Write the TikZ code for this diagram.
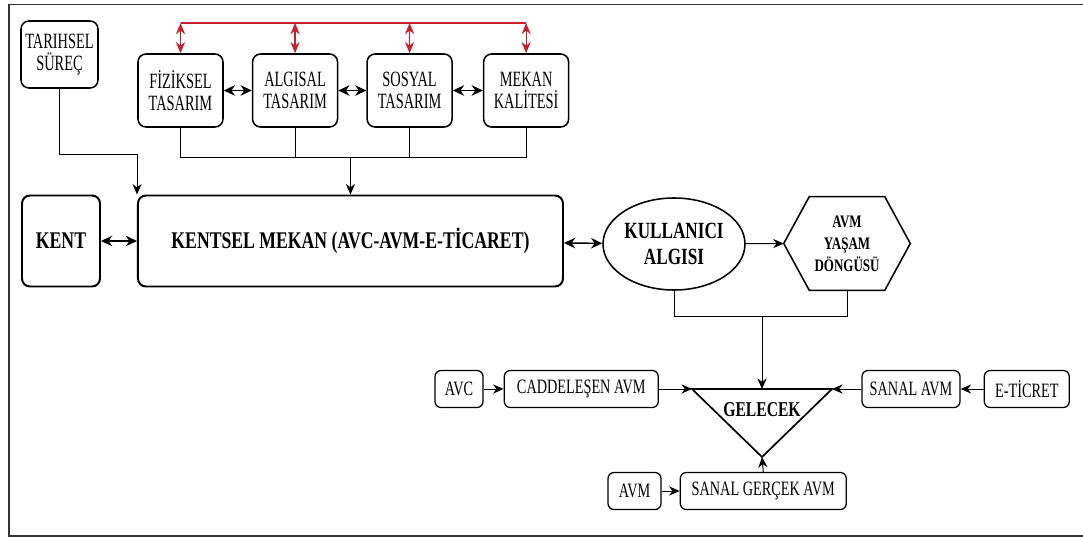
\documentclass[tikz,border=0pt]{standalone}
\usepackage{fontspec}
\setmainfont{Liberation Serif}[FakeStretch=0.74]
\newfontfamily\narrowfont{Liberation Serif}[FakeStretch=0.66]
\newfontfamily\smallfont{Liberation Serif}[FakeStretch=0.70]
\usepackage{xcolor}
\usepackage{tikz}
\usetikzlibrary{arrows.meta,positioning,shapes.geometric,calc}
\definecolor{linkred}{RGB}{200,30,45}

\begin{document}
\begin{tikzpicture}[x=0.25mm, y=-0.25mm,
  box/.style={draw, rounded corners=2mm, line width=1.1pt, align=center, minimum width=21.25mm, minimum height=18.25mm, inner sep=1pt, font=\narrowfont\fontsize{15.5}{15.6}\selectfont},
  main/.style={draw, rounded corners=2mm, line width=1.4pt, align=center, minimum height=22.75mm, inner sep=1pt, font=\bfseries\fontsize{17}{18}\selectfont},
  small/.style={draw, rounded corners=1.5mm, line width=0.9pt, align=center, minimum height=9.25mm, inner sep=2pt, font=\smallfont\fontsize{14.5}{15}\selectfont},
  link/.style={line width=0.6pt},
  arr/.style={-{Stealth[length=7.5pt,width=6.5pt]}, line width=0.7pt},
  darr/.style={{Stealth[length=8pt,width=7.5pt]}-{Stealth[length=8pt,width=7.5pt]}, line width=1pt},
  redarr/.style={{Stealth[length=8pt,width=6.5pt]}-{Stealth[length=8pt,width=6.5pt]}, linkred, line width=0.8pt}
]
\useasboundingbox (0,0) rectangle (1083,538);
\draw[line width=1.2pt, black!80] (1083,4.5) -- (9,4.5) -- (9,536) -- (1083,536);

\node[box, minimum width=19.25mm, minimum height=16.75mm] (tarih) at (59.5,54.5) {TARIHSEL\\SÜREÇ};
\node[box] (fiz) at (180.5,90.5) {FİZİKSEL\\TASARIM};
\node[box, right=7mm of fiz] (alg) {ALGISAL\\TASARIM};
\node[box, right=7mm of alg] (sos) {SOSYAL\\TASARIM};
\node[box, right=7.5mm of sos] (mek) {MEKAN\\KALİTESİ};

\node[main, minimum width=19.5mm] (kent) at (61,241) {KENT};
\node[main, minimum width=106.25mm, right=9mm of kent] (kentsel) {KENTSEL MEKAN (AVC-AVM-E-TİCARET)};
\node[draw, ellipse, line width=1.1pt, align=center, inner sep=0pt, minimum width=35.5mm, minimum height=23mm, font=\bfseries\fontsize{16.5}{19}\selectfont] (kull) at (674,244) {KULLANICI\\ALGISI};
\node[align=center, minimum width=31.5mm, minimum height=23.25mm, font=\bfseries\fontsize{12.5}{15.6}\selectfont] (yasam) at (847,243.5) {AVM\\YAŞAM\\DÖNGÜSÜ};
\draw[line width=1.1pt] (yasam.west) -- ($(yasam.north west)+(25.5,0)$) -- ($(yasam.north east)+(-25.5,0)$) -- (yasam.east) -- ($(yasam.south east)+(-25.5,0)$) -- ($(yasam.south west)+(25.5,0)$) -- cycle;

\coordinate (gl) at (692,389);
\coordinate (gr) at (832,389);
\coordinate (gb) at (762,457);
\coordinate (gtop) at (762,389);
\draw[line width=1.2pt] (gl) -- (gr) -- (gb) -- cycle;
\node[font=\bfseries\fontsize{15}{16}\selectfont] (gelecek) at (762,410) {GELECEK};

\node[small, minimum width=12mm] (avc) at (459,389) {AVC};
\node[small, minimum width=38.5mm, right=5mm of avc] (cadde) {CADDELEŞEN AVM};
\node[small, minimum width=24.5mm] (sanal) at (911,389) {SANAL AVM};
\node[small, minimum width=21.25mm, right=5.75mm of sanal] (eticret) {E-TİCRET};
\node[small, minimum width=13.25mm] (avm) at (634.5,491) {AVM};
\node[small, minimum width=41.5mm, right=4.5mm of avm] (gercek) {SANAL GERÇEK AVM};

\coordinate (redline) at (0,23);
\coordinate (join) at (0,157);
\coordinate (tbend) at (137,154);
\coordinate (rjoin) at (0,316);

\draw[linkred, line width=0.8pt] (fiz.north |- redline) -- (mek.north |- redline);
\draw[redarr] (fiz.north) -- (fiz.north |- redline);
\draw[redarr] (alg.north) -- (alg.north |- redline);
\draw[redarr] (sos.north) -- (sos.north |- redline);
\draw[redarr] (mek.north) -- (mek.north |- redline);
\draw[darr] (fiz) -- (alg);
\draw[darr] (alg) -- (sos);
\draw[darr] (sos) -- (mek);

\draw[link] (fiz.south) -- (fiz.south |- join) -- (mek.south |- join) -- (mek.south);
\draw[link] (alg.south) -- (alg.south |- join);
\draw[link] (sos.south) -- (sos.south |- join);
\draw[arr] (kentsel.north |- join) -- (kentsel.north);
\draw[arr] (tarih.south) |- (tbend) -- (tbend |- kentsel.north);

\draw[darr] (kent) -- (kentsel);
\draw[darr] (kentsel) -- (kull);
\draw[arr] (kull) -- (yasam.west);
\draw[link] (kull.south) -- (kull.south |- rjoin) -- (yasam.south |- rjoin) -- (yasam.south);
\draw[arr] (gtop |- rjoin) -- (gtop);

\draw[arr] (avc) -- (cadde);
\draw[arr] (cadde) -- (gl);
\draw[arr] (eticret) -- (sanal);
\draw[arr] (sanal) -- (gr);
\draw[arr] (avm) -- (gercek);
\draw[arr] (gercek.north) -- (gb);
\end{tikzpicture}
\end{document}
